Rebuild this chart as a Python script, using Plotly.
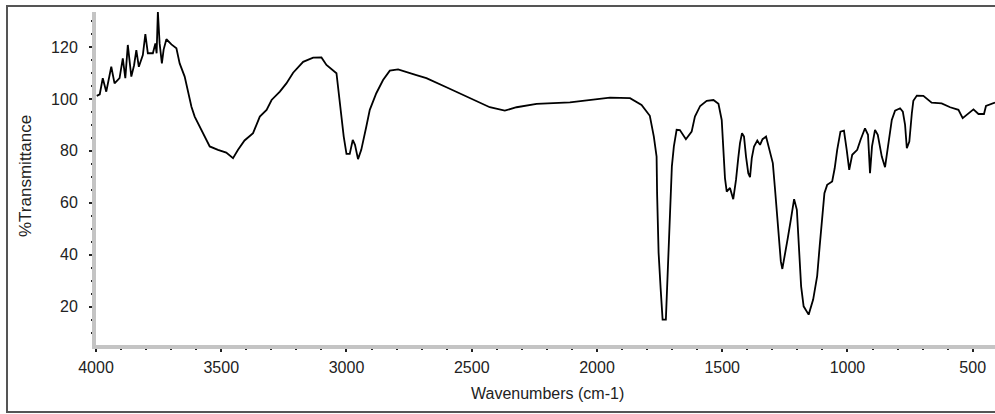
import plotly.graph_objects as go

wavenumbers = [3997, 3985, 3973, 3959, 3939, 3926, 3906, 3893, 3883, 3873, 3859, 3848, 3839, 3829,
               3813, 3803, 3793, 3773, 3763, 3758, 3753, 3746, 3737, 3730, 3719, 3699, 3679, 3666,
               3646, 3633, 3619, 3606, 3586, 3566, 3546, 3513, 3480, 3453, 3433, 3407, 3373, 3346,
               3319, 3299, 3266, 3240, 3213, 3173, 3133, 3100, 3080, 3040, 3030, 3020, 3011, 3000,
               2987, 2975, 2966, 2954, 2941, 2921, 2907, 2881, 2854, 2827, 2794, 2721, 2681, 2601,
               2521, 2428, 2368, 2321, 2241, 2148, 2108, 1948, 1868, 1822, 1789, 1773, 1762, 1760,
               1754, 1746, 1738, 1725, 1720, 1714, 1706, 1701, 1693, 1682, 1669, 1645, 1622, 1609,
               1588, 1562, 1535, 1515, 1502, 1496, 1489, 1482, 1469, 1456, 1445, 1436, 1429, 1421,
               1413, 1405, 1396, 1389, 1382, 1373, 1360, 1349, 1339, 1325, 1312, 1298, 1289, 1280,
               1272, 1266, 1260, 1250, 1239, 1226, 1213, 1202, 1195, 1185, 1175, 1155, 1137, 1121,
               1111, 1101, 1092, 1081, 1061, 1051, 1041, 1028, 1014, 1003, 993, 981, 961, 948,
               930, 918, 910, 902, 890, 879, 863, 850, 837, 823, 810, 790, 779, 770,
               763, 753, 743, 737, 723, 697, 664, 624, 590, 557, 540, 517, 497, 477,
               455, 447, 424, 411]

transmittance = [101.2, 101.8, 108, 102.8, 112.4, 106, 108, 115.6, 108, 120.8, 108.6, 113, 118.8, 112.4,
                 116.9, 125, 117.6, 117.6, 121.4, 117.6, 133.6, 121.4, 113.7, 119, 123, 121, 119.5, 113.7,
                 108.6, 102.8, 97, 93.2, 89.3, 85.5, 81.7, 80.4, 79.3, 77.2, 80.4, 84, 86.8, 93.2,
                 95.8, 99.6, 102.8, 106, 110.1, 114.3, 115.9, 116, 113.1, 109.9, 100.9, 93.2, 85.5, 78.8,
                 78.8, 84.2, 82.3, 76.8, 80.4, 89.3, 95.8, 102.2, 107.3, 110.9, 111.4, 109.2, 108, 104.5,
                 100.9, 96.8, 95.5, 96.8, 98.1, 98.6, 98.7, 100.5, 100.3, 97.7, 93.5, 85.5, 77.8, 63.7,
                 40.7, 27.2, 15, 15, 26.5, 39.3, 59.2, 74, 81.7, 88.1, 88, 84.5, 87.4, 93.2,
                 97.3, 99.3, 99.6, 98.1, 91.9, 82.3, 69.5, 64.3, 65.7, 61.4, 68.8, 77.2, 83, 86.8,
                 85.5, 77.8, 71.4, 69.9, 77.2, 81.7, 84, 82.3, 84.5, 85.5, 81, 75.3, 65, 54.7,
                 45.8, 37.4, 34.5, 39.3, 46, 53.5, 61.4, 57.3, 44, 27.8, 20.1, 16.9, 22.7, 31.7,
                 43.2, 53.5, 63.7, 66.9, 68.2, 73.3, 80.4, 87.4, 87.8, 80.4, 72.7, 78.5, 80.4, 84.2,
                 88.7, 86.2, 71.4, 81.7, 88.1, 86.2, 77.8, 73.7, 83, 91.9, 95.5, 96.4, 95.1, 90,
                 81, 83.6, 94.5, 99.3, 101.3, 101.2, 98.6, 98.3, 96.8, 95.8, 92.6, 94.5, 96, 94.2,
                 94.2, 97.3, 98.1, 98.6]

x_ticks = [4000, 3500, 3000, 2500, 2000, 1500, 1000, 500]
y_ticks = [20, 40, 60, 80, 100, 120]
x_title = "Wavenumbers (cm-1)"
y_title = "%Transmittance"

L, R, T, B = 96, 0, 12, 69
W, H = 995, 414
PW, PH = W - L - R, H - T - B

fig = go.Figure()
fig.add_trace(go.Scatter(x=wavenumbers, y=transmittance, mode="lines",
                         line=dict(color="black", width=1.8), hoverinfo="x+y"))

axis_font = dict(family="Liberation Sans, Arial, sans-serif", size=16, color="#222")

fig.update_layout(
    width=W, height=H,
    margin=dict(l=L, r=R, t=T, b=B, autoexpand=False),
    paper_bgcolor="white", plot_bgcolor="white",
    showlegend=False,
    font=dict(family="Liberation Sans, Arial, sans-serif", color="#222"),
    xaxis=dict(
        range=[4000, 411], tickvals=x_ticks, ticktext=[str(v) for v in x_ticks],
        showgrid=False, zeroline=False, automargin=False,
        showline=True, linecolor="#c4c4c4", linewidth=4,
        ticks="outside", ticklen=3, tickwidth=2, tickcolor="#222",
        tickfont=axis_font, ticklabelstandoff=2,
        minor=dict(dtick=100, tick0=0, ticks="outside", ticklen=1, tickwidth=2, tickcolor="#222", showgrid=False),
    ),
    yaxis=dict(
        range=[5.2, 133.5], tickvals=y_ticks, ticktext=[str(v) for v in y_ticks],
        showgrid=False, zeroline=False, automargin=False,
        showline=True, linecolor="#c4c4c4", linewidth=4,
        ticks="outside", ticklen=3, tickwidth=2, tickcolor="#222",
        tickfont=axis_font, ticklabelstandoff=8,
        minor=dict(dtick=5, tick0=0, ticks="outside", ticklen=1, tickwidth=2, tickcolor="#222", showgrid=False),
    ),
    annotations=[
        dict(text=x_title, xref="paper", yref="paper", x=(547 - L) / PW, y=(H - B - 393) / PH,
             showarrow=False, xanchor="center", yanchor="middle",
             font=dict(family="Liberation Sans, Arial, sans-serif", size=16, color="#222")),
        dict(text=y_title, xref="paper", yref="paper", x=(25 - L) / PW, y=(H - B - 176) / PH,
             showarrow=False, xanchor="center", yanchor="middle", textangle=-90,
             font=dict(family="Liberation Sans, Arial, sans-serif", size=17, color="#222")),
    ],
    shapes=[dict(type="rect", xref="paper", yref="paper",
                 x0=(7 - L) / PW, x1=1.05, y0=(H - B - 412) / PH, y1=(H - B - 6) / PH,
                 line=dict(color="#555", width=2), fillcolor="rgba(0,0,0,0)", layer="below")],
)

fig.write_html("out.html", config={"displayModeBar": False},
               post_script="document.body.style.margin='0';document.body.style.overflow='hidden';")
